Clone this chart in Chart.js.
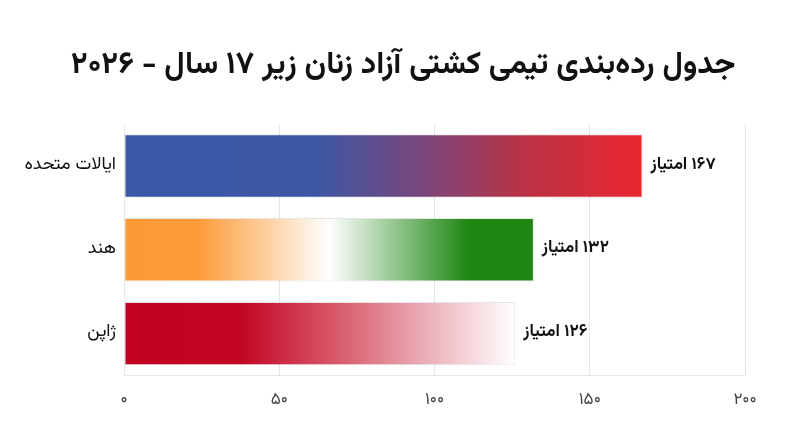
<!DOCTYPE html>
<html lang="fa">
<head>
<meta charset="utf-8">
<script src="https://cdn.jsdelivr.net/npm/chart.js@4"></script>
<style>
  html, body { margin: 0; padding: 0; background: #ffffff; }
  #wrap { width: 800px; height: 447px; }
</style>
</head>
<body>
<div id="wrap"><canvas id="rank-chart"></canvas></div>
<script>
let teams = ["ایالات متحده", "هند", "ژاپن"];
let points = [167, 132, 126];
let tickLabels = ["۰", "۵۰", "۱۰۰", "۱۵۰", "۲۰۰"];
let titleText = "جدول رده‌بندی تیمی کشتی آزاد زنان زیر ۱۷ سال - ۲۰۲۶";
let unitText = "امتیاز";

let faFont = "Vazirmatn, 'Noto Sans Arabic', 'DejaVu Sans', sans-serif";

// flag-like gradient stops per bar
let barStops = [
  [[0, "#3a58a7"], [0.37, "#3c57a4"], [0.56, "#74487f"], [0.77, "#b93346"], [1, "#ea2630"]],
  [[0, "#fb9a35"], [0.18, "#fb9b38"], [0.5, "#ffffff"], [0.84, "#1f8612"], [1, "#1f8612"]],
  [[0, "#c10022"], [0.3, "#c30626"], [0.56, "#d9606f"], [0.76, "#eaaab5"], [1, "#ffffff"]],
];
let fallbackColors = ["#5a4f93", "#9cc48a", "#e07a8a"];

function toFa(n) {
  return String(n).replace(/\d/g, (d) => "۰۱۲۳۴۵۶۷۸۹"[d]);
}

function barGradient(context) {
  let chart = context.chart;
  if (!chart.chartArea || !chart.scales.x) return fallbackColors[context.dataIndex];
  let x0 = chart.scales.x.getPixelForValue(0);
  let x1 = chart.scales.x.getPixelForValue(points[context.dataIndex]);
  let g = chart.ctx.createLinearGradient(x0, 0, x1, 0);
  barStops[context.dataIndex].forEach((s) => g.addColorStop(s[0], s[1]));
  return g;
}

// title drawn by hand so it sits centred on the whole canvas
let pageTitle = {
  id: "pageTitle",
  afterDraw(chart) {
    let ctx = chart.ctx;
    ctx.save();
    ctx.font = "bold 31px " + faFont;
    ctx.fillStyle = "#111111";
    ctx.direction = "rtl";
    ctx.textAlign = "center";
    ctx.textBaseline = "middle";
    ctx.fillText(titleText, chart.width / 2 + 3, 68);
    ctx.restore();
  },
};

let valueLabels = {
  id: "valueLabels",
  afterDatasetsDraw(chart) {
    let ctx = chart.ctx;
    let meta = chart.getDatasetMeta(0);
    ctx.save();
    ctx.font = "bold 17px " + faFont;
    ctx.fillStyle = "#111111";
    ctx.direction = "rtl";
    ctx.textAlign = "left";
    ctx.textBaseline = "middle";
    meta.data.forEach((bar, i) => {
      ctx.fillText(toFa(points[i]) + " " + unitText, bar.x + 8, bar.y);
    });
    ctx.restore();
  },
};

let rankChart = new Chart("rank-chart", {
  type: "bar",
  data: {
    labels: teams,
    datasets: [
      {
        label: "",
        data: points,
        backgroundColor: barGradient,
        borderColor: "rgba(0, 0, 0, 0.1)",
        borderWidth: 1,
        borderSkipped: false,
        barPercentage: 0.84,
        categoryPercentage: 0.9,
      },
    ],
  },
  options: {
    indexAxis: "y",
    responsive: true,
    maintainAspectRatio: false,
    animation: false,
    layout: {
      padding: { top: 124, left: 10, right: 55, bottom: 19 },
    },
    plugins: {
      legend: { display: false },
      tooltip: { enabled: false },
      title: { display: false },
    },
    scales: {
      x: {
        min: 0,
        max: 200,
        ticks: {
          stepSize: 50,
          color: "#444444",
          padding: 16,
          font: { family: faFont, size: 17 },
          callback: function (value) {
            return tickLabels[value / 50];
          },
        },
        grid: { color: "#e6e6e6", drawTicks: false },
        border: { color: "#e6e6e6" },
      },
      y: {
        afterFit: function (scale) {
          scale.width = 114;
        },
        ticks: {
          color: "#111111",
          padding: 8,
          font: { family: faFont, size: 18 },
        },
        grid: { display: false, drawTicks: false },
        border: { color: "#e6e6e6" },
      },
    },
  },
  plugins: [valueLabels, pageTitle],
});
</script>
</body>
</html>
